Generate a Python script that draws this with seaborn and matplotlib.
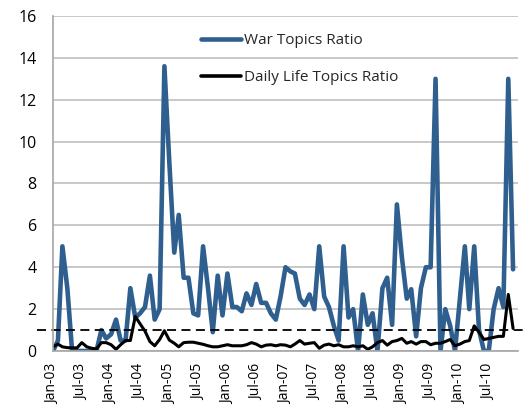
import pandas as pd
import matplotlib
matplotlib.use("Agg")
import matplotlib.pyplot as plt
import seaborn as sns

# monthly ratios, Jan-03 .. Dec-10
war_ratio = [
    0.0, 0.5, 5.0, 3.0, 0.0, 0.0, 0.0, 0.0, 0.0, 0.0, 1.0, 0.6,
    0.8, 1.5, 0.5, 0.5, 3.0, 1.6, 1.8, 2.1, 3.6, 1.5, 2.0, 13.6,
    9.0, 4.7, 6.5, 3.5, 3.5, 1.8, 1.7, 5.0, 3.0, 0.9, 3.6, 1.7,
    3.7, 2.1, 2.1, 1.9, 2.75, 2.2, 3.2, 2.3, 2.3, 1.8, 1.5, 2.6,
    4.0, 3.8, 3.7, 2.5, 2.2, 2.7, 2.0, 5.0, 2.6, 2.1, 1.2, 0.5,
    5.0, 1.6, 2.0, 0.0, 2.7, 1.25, 1.8, 0.0, 3.0, 3.5, 1.25, 7.0,
    4.5, 2.5, 2.95, 0.7, 3.0, 4.0, 4.0, 13.0, 0.0, 2.0, 1.2, 0.0,
    2.5, 5.0, 2.0, 5.0, 1.0, 0.0, 0.0, 2.0, 3.0, 2.1, 13.0, 3.9,
]
daily_ratio = [
    0.2, 0.33, 0.2, 0.16, 0.15, 0.15, 0.4, 0.2, 0.13, 0.1, 0.4, 0.4,
    0.3, 0.08, 0.3, 0.5, 0.5, 1.65, 1.3, 0.95, 0.45, 0.25, 0.55, 0.97,
    0.52, 0.37, 0.2, 0.4, 0.42, 0.42, 0.37, 0.32, 0.25, 0.2, 0.2, 0.25,
    0.3, 0.25, 0.25, 0.25, 0.3, 0.4, 0.33, 0.2, 0.28, 0.3, 0.25, 0.3,
    0.28, 0.2, 0.33, 0.5, 0.33, 0.37, 0.4, 0.13, 0.28, 0.33, 0.25, 0.3,
    0.2, 0.2, 0.25, 0.2, 0.25, 0.08, 0.2, 0.4, 0.5, 0.28, 0.45, 0.5,
    0.6, 0.37, 0.45, 0.33, 0.45, 0.45, 0.3, 0.37, 0.37, 0.45, 0.55, 0.25,
    0.33, 0.45, 0.5, 1.2, 0.9, 0.55, 0.6, 0.65, 0.7, 0.7, 2.7, 1.08,
]
months = pd.date_range("2003-01-01", periods=len(war_ratio), freq="MS")
tick_dates = pd.date_range("2003-01-01", "2011-01-01", freq="6MS")
tick_labels = [d.strftime("%b-%y") for d in tick_dates[:-1]] + [""]
threshold = 1.0

df = pd.DataFrame({
    "month": list(months) * 2,
    "ratio": war_ratio + daily_ratio,
    "series": ["War Topics Ratio"] * len(war_ratio) + ["Daily Life Topics Ratio"] * len(daily_ratio),
})

sns.set_style("white")
plt.rcParams["font.family"] = ["Open Sans", "DejaVu Sans"]

fig = plt.figure(figsize=(5.29, 4.09), dpi=100)
ax = fig.add_axes([0.1002, 0.1418, 0.8790, 0.8191])

ax.set_axisbelow(True)
ax.yaxis.grid(True, color="#bfbfbf", linewidth=1.2)

sns.lineplot(data=df, x="month", y="ratio", hue="series",
             palette={"War Topics Ratio": "#2f5f8f", "Daily Life Topics Ratio": "black"},
             size="series", sizes={"War Topics Ratio": 3.3, "Daily Life Topics Ratio": 2.2},
             ax=ax, legend=False)

ax.axhline(threshold, xmin=-0.035, xmax=1.015, color="black", linestyle=(0, (5, 3)),
           linewidth=1.3, clip_on=False)

ax.set_xlim(months[0], pd.Timestamp("2011-01-01"))
ax.set_ylim(0, 16)
ax.set_yticks(range(0, 17, 2))
ax.set_xticks(tick_dates)
ax.set_xticklabels(tick_labels, rotation=90)
ax.set_xlabel("")
ax.set_ylabel("")

for side in ["top", "right"]:
    ax.spines[side].set_visible(False)
for side in ["left", "bottom"]:
    ax.spines[side].set_color("#a6a6a6")
    ax.spines[side].set_linewidth(1.2)
ax.tick_params(axis="both", colors="#a6a6a6", length=6, width=1.2, direction="out",
               labelcolor="black")
ax.tick_params(axis="y", labelsize=11.5, pad=6)
ax.tick_params(axis="x", labelsize=10, pad=3)

handles = [plt.Line2D([], [], color="#2f5f8f", linewidth=3.3),
           plt.Line2D([], [], color="black", linewidth=2.6)]
ax.legend(handles, ["War Topics Ratio", "Daily Life Topics Ratio"], loc="upper left",
          bbox_to_anchor=(0.289, 0.99), frameon=False, fontsize=11,
          handlelength=2.6, handletextpad=0.2, labelspacing=1.45)

fig.savefig("out.png", dpi=100)
